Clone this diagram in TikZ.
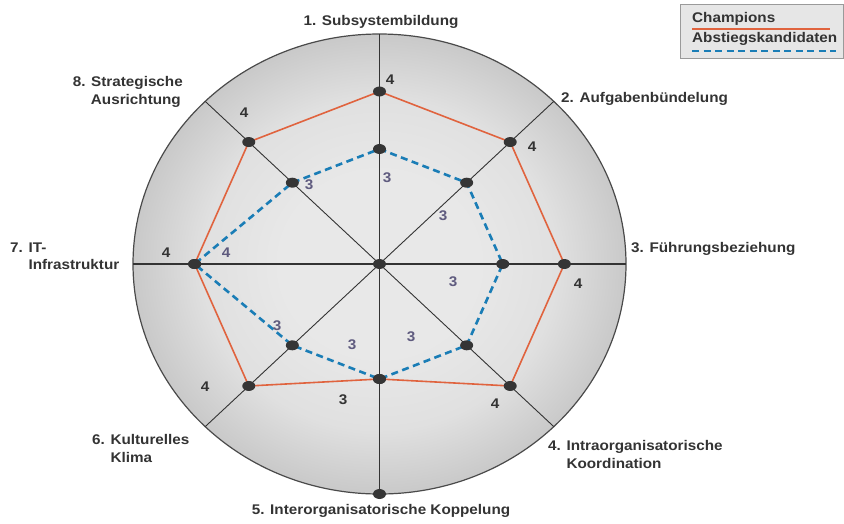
\documentclass[tikz,border=0pt]{standalone}
\usepackage{fontspec}
\setmainfont{Liberation Sans}[FakeStretch=1.09]
\usetikzlibrary{shapes.geometric}
\definecolor{txt}{HTML}{333333}
\definecolor{dotc}{HTML}{353535}
\definecolor{champ}{HTML}{E0633E}
\definecolor{abst}{HTML}{1A7DB6}
\definecolor{numb}{HTML}{5E5A7E}
\definecolor{rim}{HTML}{4A4A4A}
\definecolor{legfill}{HTML}{E6E6E6}
\definecolor{legdraw}{HTML}{9A9A9A}
\definecolor{shA}{HTML}{E8E8E8}
\definecolor{shB}{HTML}{E0E0E0}
\definecolor{shC}{HTML}{C9C9C9}
\pgfdeclareradialshading{discshade}{\pgfpointorigin}{color(0bp)=(shA); color(10bp)=(shA); color(18bp)=(shB); color(25bp)=(shC); color(50bp)=(shC)}
\tikzset{
  dot/.style={ellipse, fill=dotc, minimum width=13pt, minimum height=10pt, inner sep=0pt},
  mainaxis/.style={draw=txt, line width=1.8pt},
  diagaxis/.style={draw=txt, line width=0.9pt},
  champline/.style={draw=champ, line width=1.6pt, line join=round},
  abstline/.style={draw=abst, line width=2.6pt, dash pattern=on 7pt off 4.5pt},
  lbl/.style={anchor=base west, inner sep=0pt, text=txt},
  lblr/.style={anchor=base east, inner sep=0pt, text=txt},
  num/.style={inner sep=0pt, text=txt},
  numb/.style={inner sep=0pt, text=numb}
}
\begin{document}
\begin{tikzpicture}[x=1pt, y=-1pt, font=\bfseries\fontsize{14}{17}\selectfont]
\useasboundingbox (0,0) rectangle (844,523);
\begin{scope}[shift={(379.5,264)}, x=246.5pt, y=230pt]
  \shade[shading=discshade] (0,0) ellipse [x radius=246.5pt, y radius=230pt];
  \draw[rim, line width=1.2pt] (0,0) ellipse [x radius=246.5pt, y radius=230pt];
  \coordinate (O) at (0,0);
  \foreach \i/\a in {1/90,2/45,3/0,4/-45,5/-90,6/-135,7/180,8/135}
    \coordinate (e\i) at (\a:1);
  % champions
  \foreach \i/\a/\r in {1/90/0.75,2/45/0.75,3/0/0.75,4/-45/0.75,5/-90/0.5,6/-135/0.75,7/180/0.75,8/135/0.75}
    \coordinate (c\i) at (\a:\r);
  % abstiegskandidaten
  \foreach \i/\a/\r in {1/90/0.5,2/45/0.5,3/0/0.5,4/-45/0.5,5/-90/0.5,6/-135/0.5,7/180/0.75,8/135/0.5}
    \coordinate (a\i) at (\a:\r);
  \draw[mainaxis] (e1) -- (e5);
  \draw[mainaxis] (e7) -- (e3);
  \draw[diagaxis] (e2) -- (e6);
  \draw[diagaxis] (e8) -- (e4);
\end{scope}
\draw[champline] (c1) -- (c2) -- (c3) -- (c4) -- (c5) -- (c6) -- (c7) -- (c8) -- cycle;
\draw[abstline] (a1) -- (a2) -- (a3) -- (a4) -- (a5) -- (a6) -- (a7) -- (a8) -- cycle;
% dots
\node[dot] (dO) at (O) {};
\node[dot] (d5e) at (e5) {};
\foreach \i in {1,...,8} {
  \node[dot] (dc\i) at (c\i) {};
  \node[dot] (da\i) at (a\i) {};
}
% value labels
\node[num] (n1) at (390,80) {4};
\node[num] (n2) at (532,147) {4};
\node[num] (n3) at (578,284) {4};
\node[num] (n4) at (495,404) {4};
\node[num] (n5) at (343,400) {3};
\node[num] (n6) at (205,387) {4};
\node[num] (n7) at (166,253) {4};
\node[num] (n8) at (244,113) {4};
\node[numb] (m1) at (387,178) {3};
\node[numb] (m2) at (443,216) {3};
\node[numb] (m3) at (453,282) {3};
\node[numb] (m4) at (411,337) {3};
\node[numb] (m5) at (352,345) {3};
\node[numb] (m6) at (277,326) {3};
\node[numb] (m7) at (226,253) {4};
\node[numb] (m8) at (309,185) {3};
% axis labels
\node[anchor=base, inner sep=0pt, text=txt] (l1) at (381,25) {1. Subsystembildung};
\node[lbl] (l2) at (561,102) {2. Aufgabenbündelung};
\node[lbl] (l3) at (631,252) {3. Führungsbeziehung};
\node[lbl] (l4) at (548,450) {4. Intraorganisatorische};
\node[lbl] (l4b) at (548,468) {\hphantom{4. }Koordination};
\node[anchor=base, inner sep=0pt, text=txt] (l5) at (381,514) {5. Interorganisatorische Koppelung};
\node[lbl] (l6) at (92,444) {6. Kulturelles};
\node[lbl] (l6b) at (92,462) {\hphantom{6. }Klima};
\node[lbl] (l7) at (10,252) {7. IT-};
\node[lbl] (l7b) at (10,269) {\hphantom{7. }Infrastruktur};
\node[lblr] (l8) at (183,86) {8. Strategische};
\node[lblr] (l8b) at (181,104) {Ausrichtung};
% legend
\node[draw=legdraw, fill=legfill, line width=0.8pt, minimum width=163pt, minimum height=54pt, anchor=north west, inner sep=0pt] (leg) at (680,4) {};
\node[lbl] (lg1) at (692,22) {Champions};
\node[lbl] (lg2) at (692,42) {Abstiegskandidaten};
\coordinate (lr1) at (692,29);
\coordinate (lr2) at (830,29);
\coordinate (lb1) at (692,51);
\coordinate (lb2) at (836,51);
\draw[champline] (lr1) -- (lr2);
\draw[abstline] (lb1) -- (lb2);
\end{tikzpicture}
\end{document}
